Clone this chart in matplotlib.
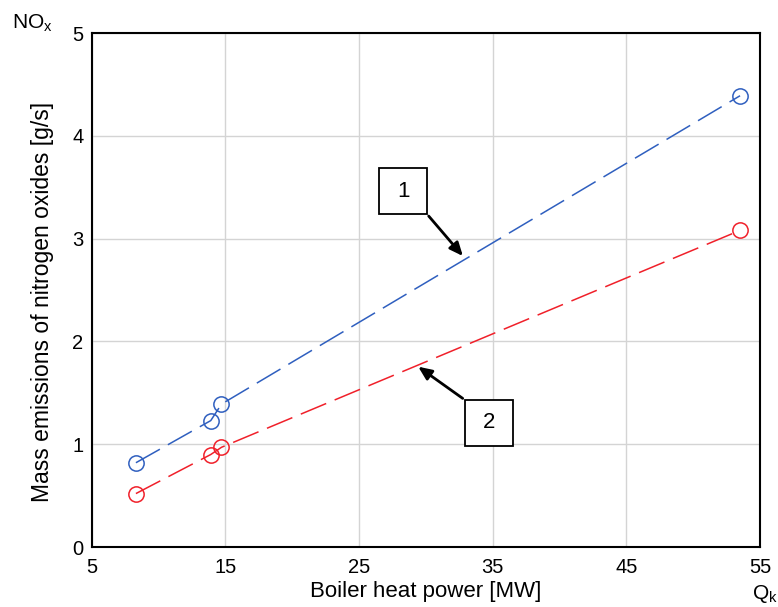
import matplotlib; matplotlib.use("Agg")
import matplotlib.pyplot as plt
from matplotlib.patches import Rectangle

plt.rcParams['font.family'] = ['Liberation Sans', 'DejaVu Sans']

# data
q = [8.3, 13.9, 14.7, 53.5]
nox_1 = [0.82, 1.23, 1.39, 4.39]
nox_2 = [0.52, 0.90, 0.97, 3.08]
xticks = [5, 15, 25, 35, 45, 55]
yticks = [0, 1, 2, 3, 4, 5]

BLUE = "#2f5fbf"
RED = "#f0202a"

fig = plt.figure(figsize=(7.78, 6.07), dpi=100)
ax = fig.add_axes([0.118, 0.0988, 0.859, 0.8468])
ax.set_xlim(5, 55); ax.set_ylim(0, 5)
ax.set_xticks(xticks); ax.set_yticks(yticks)
ax.tick_params(length=0, labelsize=14.5)
ax.tick_params(axis="x", pad=8)
ax.tick_params(axis="y", pad=6)
ax.grid(True, color="#d4d4d4", lw=1)
ax.set_axisbelow(True)
for s in ax.spines.values():
    s.set_linewidth(1.5)

dash = (0, (18, 6))
ax.plot(q, nox_1, color=BLUE, lw=1.1, linestyle=dash, marker="o", ms=11,
        mfc="none", mec=BLUE, mew=1.1)
ax.plot(q, nox_2, color=RED, lw=1.1, linestyle=dash, marker="o", ms=11,
        mfc="none", mec=RED, mew=1.1)

# numbered boxes with arrows
bw, bh = 3.59, 0.447
for (cx, cy), lab, corner, tip in [((28.3, 3.46), "1", (30.07, 3.24), (32.9, 2.81)),
                                   ((34.7, 1.21), "2", (32.92, 1.43), (29.25, 1.77))]:
    ax.add_patch(Rectangle((cx-bw/2, cy-bh/2), bw, bh, facecolor="white",
                           edgecolor="black", lw=1.3, zorder=5))
    ax.text(cx, cy, lab, ha="center", va="center", fontsize=16, zorder=6)
    ax.annotate("", xy=tip, xytext=corner,
                arrowprops=dict(arrowstyle="-|>,head_length=0.8,head_width=0.35",
                                color="black", lw=2), zorder=6)

ax.set_xlabel("Boiler heat power [MW]", fontsize=16, labelpad=3)
ax.set_ylabel("Mass emissions of nitrogen oxides [g/s]", fontsize=16.5)
ax.yaxis.set_label_coords(-0.056, 0.477)
fig.text(0.015, 0.962, "NO$_\\mathregular{x}$", fontsize=15, ha="left", va="center")
fig.text(0.983, 0.022, "Q$_\\mathregular{k}$", fontsize=15, ha="center", va="center")

fig.savefig("out.png", dpi=100)
